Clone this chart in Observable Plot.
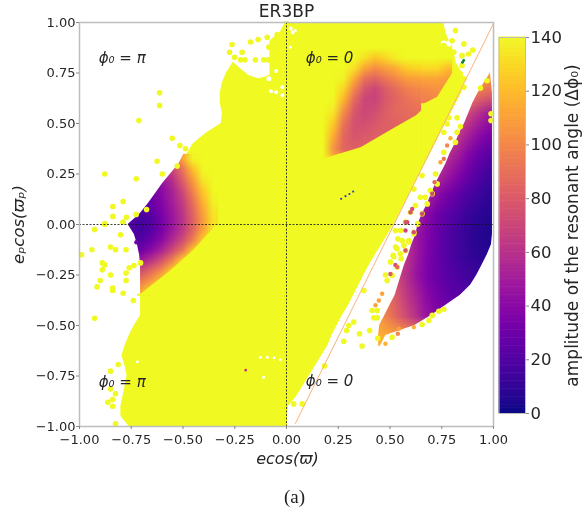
<!DOCTYPE html>
<html><head><meta charset="utf-8">
<script src="https://cdn.jsdelivr.net/npm/d3@7"></script>
<script src="https://cdn.jsdelivr.net/npm/@observablehq/plot@0.6"></script>
<style>
html,body{margin:0;padding:0;background:#fff}
#wrap{position:relative;width:584px;height:514px;overflow:hidden;font-family:"DejaVu Sans";filter:blur(.4px)}
#main,#bar{position:absolute;top:0}
#main{left:0}#bar{left:490px}
#cap{position:absolute;left:0;width:589px;top:486px;text-align:center;font:19px "Liberation Serif";color:#222}
</style></head><body>
<div id="wrap"><div id="main"></div><div id="bar"></div><div id="cap">(a)</div></div>
<script>
const YELLOW="#f0f921";
const axisTicks=[-1,-.75,-.5,-.25,0,.25,.5,.75,1];
const barTicks=[0,20,40,60,80,100,120,140];
const regionY=[1,.95,.9,.85,.8,.75,.7,.65,.6,.55,.5,.45,.4,.35,.3,.25,.2,.15,.1,.05,0,-.05,-.1,-.15,-.2,-.25,-.3,-.35,-.4,-.45,-.5,-.55,-.6,-.65,-.7,-.75,-.8,-.85,-.9,-.95,-1];
const regionLeft=[-.005,-.03,-.09,-.25,-.26,-.29,-.31,-.32,-.32,-.31,-.315,-.39,-.45,-.48,-.52,-.56,-.6,-.635,-.67,-.71,-.765,-.735,-.72,-.71,-.705,-.705,-.705,-.705,-.705,-.705,-.735,-.76,-.78,-.795,-.78,-.77,-.78,-.79,-.8,-.8,-.76];
const regionRight=[.76,.77,.79,.81,.82,.85,.86,.845,.82,.795,.77,.745,.72,.695,.67,.645,.62,.595,.57,.545,.52,.49,.46,.43,.4,.375,.35,.325,.3,.27,.245,.22,.2,.17,.14,.11,.08,.05,.01,.005,.005];
const notchX=[-.27,-.26,-.182,-.134,-.1,-.08];
const notchLow=[.83,.805,.738,.721,.73,.74];
const notchHigh=[.83,.92,.92,.92,.92,.92];
const leftLobeValues=[
60,60,60,70,80,110,138,140,140,
40,40,45,52,68,90,120,140,140,
35,35,35,45,58,82,108,135,140,
30,30,32,40,52,72,98,125,140,
25,25,28,38,50,66,90,118,138,
22,20,25,35,47,62,85,112,135,
20,15,20,32,45,60,82,108,132,
20,15,22,33,47,62,84,110,135,
22,20,28,40,55,72,95,125,140,
25,30,40,52,70,90,122,140,140,
40,48,60,75,95,125,140,140,140,
70,72,85,100,125,140,140,140,140,
90,92,105,125,140,140,140,140,140,
105,110,130,140,140,140,140,140,140];
const leftEdgeY=[.36,.3,.25,.2,.15,.1,.05,0,-.05,-.1,-.15,-.2,-.25,-.3,-.36];
const leftEdgeX=[-.49,-.52,-.56,-.6,-.635,-.67,-.71,-.765,-.735,-.72,-.71,-.705,-.705,-.705,-.705];
const leftDiagX=[-.72,-.705,-.69,-.56,-.45,-.333,-.32];
const leftDiagY=[-.345,-.345,-.335,-.23,-.13,0,.02];
const rightLobeValues=[
120,120,120,120,120,120,120,120,120,120,120,110,
100,100,100,100,100,100,100,100,100,100,90,85,
80,80,80,80,80,80,80,80,80,70,58,48,
70,70,70,70,70,70,70,70,65,52,42,35,
65,65,65,65,65,65,65,60,50,38,28,22,
60,60,60,60,60,60,58,48,38,28,20,14,
58,58,58,58,58,55,42,32,25,18,13,9,
55,55,55,55,52,40,30,23,17,12,8,6,
62,62,62,62,48,37,28,20,14,10,6,4,
75,75,75,62,48,36,27,20,14,10,8,6,
75,75,72,60,45,35,28,22,18,14,12,12,
95,90,80,65,52,40,32,26,22,20,20,20,
110,98,85,72,58,45,38,32,30,30,30,30,
115,115,110,105,100,95,85,80,80,80,80,80];
const rightEdgeY=[.82,.75,.7,.65,.6,.55,.5,.45,.4,.35,.3,.25,.2,.15,.1,.05,0,-.05,-.1,-.15,-.2,-.25,-.3,-.35,-.4,-.45,-.5,-.55,-.62];
const rightEdgeLeft=[1.01,.985,.955,.925,.9,.88,.86,.835,.815,.79,.77,.745,.72,.7,.68,.655,.635,.625,.605,.59,.57,.555,.54,.525,.5,.475,.45,.445,.445];
const rightEdgeRight=[1,.985,.99,.995,.995,.995,.995,.995,.995,.995,.995,.995,.995,.995,.995,.995,.995,.995,.99,.97,.945,.92,.89,.84,.77,.7,.62,.48,.445];
const flameLowerValues=[
140,140,140,140,140,140,140,140,140,140,
140,140,140,140,132,122,128,136,140,140,
140,140,140,132,112,102,108,114,125,128,
140,140,138,115,90,84,92,100,108,110,
140,140,128,100,78,70,80,88,96,100,
140,140,118,88,70,68,78,84,90,95,
140,136,105,80,70,72,80,86,88,90,
140,128,95,76,72,76,82,84,86,88,
140,120,88,76,76,80,82,84,86,88,
140,112,85,78,80,82,84,86,88,90,
140,104,85,82,84,86,88,90,90,90,
140,118,105,98,96,96,96,96,96,96];
const flameUpperValues=[
140,140,140,
140,140,140,
130,130,120,
112,112,108,
102,104,105,
97,100,105];
const flameEdgeX=[.15,.2,.36,.52,.63,.655,.655,.73,.81];
const flameEdgeY=[.31,.33,.38,.475,.54,.565,.59,.63,.76];
const flameEdgeFloor=[.29,.29,.29,.29,.29,.29,.59,.59,.59];
const yellowX=[-.613,-.613,-.713,-.552,-.515,-.488,-.625,-.878,-.726,-.6,-.528,-.839,-.789,-.839,-.726,-.676,-.773,-.789,-.878,-.263,-.174,-.137,-.275,-.214,-.251,-.222,-.201,-.15,-.11,-.087,.003,-.093,-.045,-.085,
-.878,-.789,-.927,-.802,-.99,-.94,-.85,-.826,-.775,-.89,-.878,-.89,-.85,-.775,-.76,-.737,-.775,-.9,-.915,-.84,-.84,-.789,-.74,-.927,-.705,-.813,-.85,-.826,-.85,-.863,-.84,-.84,-.826,
.816,.8,.857,.76,.808,.9,.88,.848,.848,.84,.824,.857,.857,.969,.937,.988,.988,.824,.784,.776,.76,.84,.824,.816,.76,.655,.615,.72,.695,.67,
.526,.534,.559,.518,.478,.486,.414,.438,.422,.438,.615,.591,.567,.55,.374,.325,.301,.29,.277,.353,.402,.365,.441,.51,.655,.688,.704,.736,.76,.184,.076,.035,
.728,.704,.68,.655,.634,.615,.591,.575,.554,.535,.51,.647,.623,.599,.575,.551,.538,.527,.515,.502];
const yellowY=[.652,.589,.515,.427,.391,.375,.313,.25,.226,.25,.289,.089,.114,.04,.05,.074,.036,.011,.005,.891,.903,.916,.853,.853,.828,.815,.815,.815,.815,.815,.993,.927,.94,.878,
0,.012,-.025,-.051,-.15,-.125,-.112,-.125,-.125,-.19,-.2,-.224,-.25,-.24,-.214,-.203,-.277,-.277,-.309,-.315,-.327,-.34,-.376,-.464,-.19,-.693,-.726,-.838,-.814,-.88,-.866,-.9,-.987,
.96,.91,.894,.886,.853,.864,.844,.836,.787,.745,.712,.721,.68,.712,.676,.548,.515,.528,.528,.498,.457,.485,.457,.407,.358,.242,.176,.25,.168,.135,
-.03,-.12,-.08,-.16,-.25,-.277,-.426,-.426,-.462,-.462,-.046,-.08,-.104,-.145,-.327,-.483,-.5,-.525,-.578,-.541,-.525,-.602,-.563,-.558,-.495,-.475,-.45,-.43,-.42,-.7,-.888,-.888,
.201,.152,.102,.053,.003,-.038,-.087,-.129,-.17,-.211,-.252,.135,.094,.061,.012,-.03,-.071,-.112,-.153,-.186];
const warmX=[.792,.776,.744,.76,.715,.607,.583,.526,.502,.462,.446,.43,.575,.478,.543,.538,.615,-.725,.704,.655,.615,.575,.535,.599,.575];
const warmY=[.427,.391,.308,.325,.21,.077,.011,-.2,-.245,-.343,-.376,-.4,-.03,-.59,-.516,-.541,-.508,-.088,.152,.053,-.038,-.129,-.211,.061,.012];
const warmValue=[115,100,110,90,85,75,70,75,80,110,110,110,70,115,110,100,115,30,72,72,75,78,85,78,78];
const blueX=[.264,.285,.304,.322];
const blueY=[.127,.14,.151,.163];
const greenX=[.85,.856];
const greenY=[.803,.812];
const pinkX=[-.197];
const pinkY=[-.721];
const holeX=[-.085,-.05,-.075,-.05,-.02,-.02,.019,.02,.03,.043,.76,.785,.83,.84,.86,-.126,-.092,-.06,-.03,-.11,-.72];
const holeY=[.721,.76,.66,.655,.68,.64,.878,.97,.95,.96,.896,.896,.89,.85,.82,-.657,-.657,-.66,-.67,-.756,-.68];
const holeR=[2.5,2,2,2,2,2,1.5,2,2,1.5,3,3,2.5,2.5,2.5,1.5,1.5,1.5,1.5,1.5,1.5];
const lineX=[.043,1];
const lineY=[-.985,.995];
const labels=["\u03d5\u2080 = \u03c0","\u03d5\u2080 = 0","\u03d5\u2080 = \u03c0","\u03d5\u2080 = 0"];
const labelX=[-.794,.208,-.794,.208];
const labelY=[.824,.824,-.78,-.777];
const lobeRaster=(vals,w,h,x1,x2,y1,y2)=>Plot.raster(vals,{width:w,height:h,x1,x2,y1,y2,fill:d=>d});
const dots=(X,Y,o)=>Plot.dot(X,{x:d=>d,y:(d,i)=>Y[i],stroke:"none",...o});
const colorOpt={type:"linear",domain:[0,140],scheme:"plasma"};
const fmt=d=>d3.format(".2f")(d).replace("-","\u2212");
const main=Plot.plot({width:584,height:470,marginLeft:79,marginRight:91,marginTop:22,marginBottom:44,
 style:{fontFamily:"DejaVu Sans",background:"transparent",color:"#262626"},
 x:{domain:[-1,1]},y:{domain:[-1,1]},color:colorOpt,r:{type:"identity"},
 marks:[
  lobeRaster(rightLobeValues,12,14,.4,1,.8,-.6),
  Plot.areaX(rightEdgeY,{y:d=>d,x1:.38,x2:(d,i)=>rightEdgeLeft[i],fill:"white"}),
  Plot.areaX(rightEdgeY,{y:d=>d,x1:(d,i)=>rightEdgeRight[i],x2:1.01,fill:"white"}),
  Plot.areaX(regionY,{y:d=>d,x1:(d,i)=>regionLeft[i],x2:(d,i)=>regionRight[i],fill:YELLOW}),
  Plot.areaY(notchX,{x:d=>d,y1:(d,i)=>notchLow[i],y2:(d,i)=>notchHigh[i],fill:"white"}),
  lobeRaster(leftLobeValues,9,14,-.78,-.33,.35,-.35),
  Plot.areaX(leftEdgeY,{y:d=>d,x1:-.8,x2:(d,i)=>leftEdgeX[i],fill:"white"}),
  Plot.areaY(leftDiagX,{x:d=>d,y1:(d,i)=>leftDiagY[i],y2:-.355,fill:YELLOW}),
  lobeRaster(flameLowerValues,10,12,.15,.65,.9,.3),
  lobeRaster(flameUpperValues,3,6,.65,.8,.9,.6),
  Plot.areaY(flameEdgeX,{x:d=>d,y1:(d,i)=>flameEdgeY[i],y2:(d,i)=>flameEdgeFloor[i],fill:YELLOW}),
  dots(holeX,holeY,{r:(d,i)=>holeR[i],fill:"white"}),
  dots(yellowX,yellowY,{r:2.8,fill:YELLOW}),
  dots(warmX,warmY,{r:2.2,fill:(d,i)=>warmValue[i]}),
  dots(blueX,blueY,{r:1.1,fill:"#2c3fd0"}),
  dots(greenX,greenY,{r:1.4,fill:"#0b7d2c"}),
  dots(pinkX,pinkY,{r:1.3,fill:"#c0307f"}),
  Plot.line(lineX,{x:d=>d,y:(d,i)=>lineY[i],stroke:"#fdb27a",strokeWidth:1}),
  Plot.ruleX([0],{stroke:"#111",strokeWidth:.8,strokeDasharray:"2,1.5"}),
  Plot.ruleY([0],{stroke:"#111",strokeWidth:.8,strokeDasharray:"2,1.5"}),
  Plot.frame({stroke:"#bdbdbd",strokeWidth:1.5}),
  Plot.axisX({ticks:axisTicks,tickSize:3,tickPadding:5,tickFormat:fmt,label:null,fontSize:13,stroke:"#888",fill:"#262626"}),
  Plot.axisY({ticks:axisTicks,tickSize:3,tickPadding:1,tickFormat:fmt,label:null,fontSize:13,stroke:"#888",fill:"#262626"}),
  Plot.text(labels,{x:(d,i)=>labelX[i],y:(d,i)=>labelY[i],fontSize:15,fontStyle:"italic",fill:"#262626"}),
  Plot.text(["ER3BP"],{x:[0],y:[1],dy:-11,fontSize:17,fill:"#262626"}),
  Plot.text(["ecos(\u03d6)"],{x:[0.005],y:[-1],dy:32,fontSize:16,fontStyle:"italic",fill:"#262626"}),
  Plot.text(["e\u209acos(\u03d6\u209a)"],{frameAnchor:"left",textAnchor:"middle",y:[0],dx:-61,rotate:-90,fontSize:16.5,fontStyle:"italic",fill:"#262626"})
 ]});
document.getElementById("main").append(main);
const barLevels=d3.range(0,140,1);
const bar=Plot.plot({width:94,height:470,marginLeft:8.5,marginRight:59,marginTop:37,marginBottom:57,
 style:{fontFamily:"DejaVu Sans",background:"transparent",color:"#262626"},
 x:{domain:[0,1],axis:null},y:{domain:[0,140]},color:colorOpt,
 marks:[
  Plot.rect(barLevels,{x1:0,x2:1,y1:d=>d,y2:d=>d+1.2,fill:d=>d}),
  Plot.frame({stroke:"#bdbdbd",strokeWidth:1}),
  Plot.axisY({anchor:"right",ticks:barTicks,tickSize:3,tickPadding:2,label:null,fontSize:16.5,stroke:"#888",fill:"#262626"}),
  Plot.text(["amplitude of the resonant angle (\u0394\u03d5\u2080)"],{frameAnchor:"right",textAnchor:"middle",y:[70],dx:47,rotate:-90,fontSize:17,fill:"#262626"})
 ]});
document.getElementById("bar").append(bar);
</script></body></html>
